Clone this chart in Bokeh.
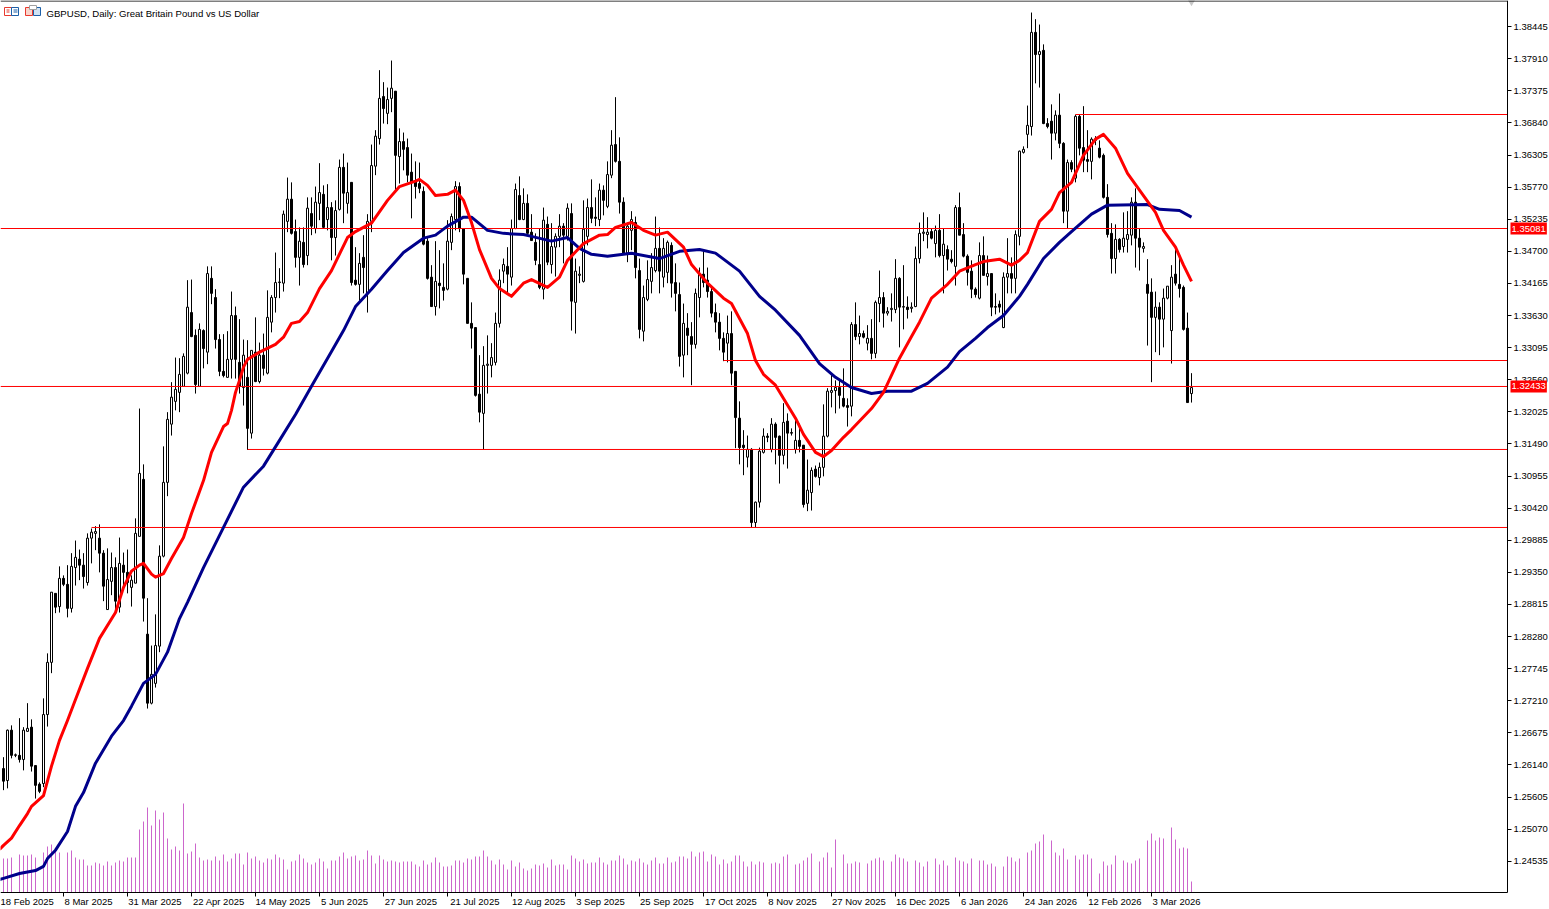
from bokeh.plotting import figure, ColumnDataSource
from bokeh.models import Range1d, LinearAxis, FixedTicker, PrintfTickFormatter, Label, BoxAnnotation
from bokeh.embed import file_html
from bokeh.resources import INLINE

opens = [
    1.2608,1.2588,1.2672,1.2630,1.2630,1.2623,1.2670,1.2677,1.2613,1.2582,
    1.2583,1.2698,1.2785,1.2900,1.2878,1.2925,1.2915,1.2875,1.2943,1.2957,
    1.2947,1.2918,1.2992,1.3000,1.2992,1.2967,1.2873,1.2920,1.2943,1.2877,
    1.2947,1.2935,1.2910,1.2917,1.2995,1.3090,1.2832,1.2717,1.2750,1.2812,
    1.2962,1.3085,1.3182,1.3220,1.3235,1.3245,1.3267,1.3368,1.3330,1.3245,
    1.3338,1.3302,1.3425,1.3393,1.3323,1.3270,1.3260,1.3290,1.3363,1.3285,
    1.3243,1.3260,1.3167,1.3302,1.3253,1.3297,1.3267,1.3352,1.3393,1.3418,
    1.3417,1.3520,1.3557,1.3503,1.3460,1.3485,1.3463,1.3533,1.3508,1.3550,
    1.3565,1.3523,1.3543,1.3493,1.3540,1.3610,1.3550,1.3585,1.3422,1.3415,
    1.3460,1.3400,1.3520,1.3612,1.3658,1.3728,1.3700,1.3725,1.3737,1.3628,
    1.3653,1.3643,1.3602,1.3587,1.3583,1.3570,1.3487,1.3427,1.3378,1.3417,
    1.3410,1.3407,1.3485,1.3523,1.3578,1.3508,1.3425,1.3350,1.3343,1.3232,
    1.3200,1.3280,1.3280,1.3285,1.3350,1.3437,1.3445,1.3427,1.3508,1.3563,
    1.3523,1.3550,1.3502,1.3485,1.3448,1.3407,1.3515,1.3448,1.3477,1.3495,
    1.3512,1.3495,1.3533,1.3385,1.3430,1.3420,1.3495,1.3543,1.3527,1.3523,
    1.3572,1.3545,1.3597,1.3648,1.3620,1.3552,1.3467,1.3505,1.3518,1.3438,
    1.3337,1.3390,1.3420,1.3438,1.3475,1.3427,1.3435,1.3480,1.3418,1.3398,
    1.3297,1.3342,1.3328,1.3315,1.3393,1.3432,1.3422,1.3403,1.3368,1.3352,
    1.3325,1.3317,1.3333,1.3270,1.3192,1.3147,1.3127,1.3140,1.3018,1.3052,
    1.3135,1.3162,1.3140,1.3182,1.3162,1.3130,1.3187,1.3168,1.3140,1.3155,
    1.3147,1.3050,1.3068,1.3107,1.3093,1.3110,1.3162,1.3235,1.3238,1.3243,
    1.3225,1.3213,1.3212,1.3348,1.3328,1.3333,1.3317,1.3325,1.3300,1.3383,
    1.3393,1.3367,1.3373,1.3373,1.3425,1.3377,1.3377,1.3375,1.3378,1.3458,
    1.3500,1.3498,1.3503,1.3483,1.3505,1.3463,1.3473,1.3457,1.3445,1.3543,
    1.3498,1.3462,1.3437,1.3407,1.3392,1.3463,1.3428,1.3433,1.3378,1.3382,
    1.3343,1.3427,1.3433,1.3425,1.3495,1.3635,1.3665,1.3678,1.3835,1.3798,
    1.3805,1.3683,1.3687,1.3667,1.3697,1.3650,1.3537,1.3618,1.3592,1.3695,
    1.3643,1.3623,1.3620,1.3655,1.3642,1.3630,1.3560,1.3500,1.3458,1.3490,
    1.3478,1.3490,1.3497,1.3552,1.3492,1.3475,1.3415,1.3402,1.3360,1.3377,
    1.3357,1.3392,1.3338,1.3432,1.3415,1.3410,1.3342,1.3233,
]
highs = [
    1.2627,1.2673,1.2680,1.2633,1.2692,1.2677,1.2717,1.2690,1.2613,1.2585,
    1.2725,1.2800,1.2902,1.2900,1.2945,1.2930,1.2947,1.2967,1.2988,1.2973,
    1.2967,1.3000,1.3008,1.3012,1.3015,1.2972,1.2975,1.2968,1.2960,1.2993,
    1.2968,1.2973,1.2930,1.3025,1.3208,1.3115,1.2892,1.2813,1.2865,1.2980,
    1.3145,1.3202,1.3252,1.3293,1.3292,1.3300,1.3422,1.3423,1.3340,1.3350,
    1.3340,1.3445,1.3445,1.3407,1.3332,1.3332,1.3337,1.3403,1.3378,1.3357,
    1.3323,1.3322,1.3305,1.3360,1.3318,1.3333,1.3405,1.3397,1.3468,1.3442,
    1.3538,1.3593,1.3585,1.3523,1.3510,1.3510,1.3560,1.3560,1.3578,1.3617,
    1.3580,1.3582,1.3552,1.3555,1.3623,1.3633,1.3618,1.3585,1.3477,1.3467,
    1.3497,1.3532,1.3648,1.3672,1.3772,1.3752,1.3743,1.3788,1.3737,1.3675,
    1.3668,1.3658,1.3633,1.3620,1.3618,1.3578,1.3492,1.3447,1.3487,1.3472,
    1.3450,1.3522,1.3533,1.3587,1.3585,1.3508,1.3425,1.3385,1.3343,1.3297,
    1.3312,1.3330,1.3317,1.3368,1.3440,1.3458,1.3477,1.3523,1.3583,1.3595,
    1.3575,1.3565,1.3532,1.3500,1.3508,1.3543,1.3528,1.3517,1.3500,1.3532,
    1.3517,1.3550,1.3550,1.3458,1.3445,1.3555,1.3558,1.3590,1.3560,1.3583,
    1.3580,1.3620,1.3672,1.3727,1.3660,1.3560,1.3518,1.3537,1.3528,1.3458,
    1.3413,1.3455,1.3467,1.3528,1.3510,1.3492,1.3488,1.3485,1.3450,1.3418,
    1.3383,1.3367,1.3352,1.3408,1.3443,1.3472,1.3443,1.3410,1.3383,1.3367,
    1.3335,1.3363,1.3370,1.3270,1.3220,1.3172,1.3163,1.3142,1.3053,1.3143,
    1.3175,1.3167,1.3192,1.3185,1.3163,1.3217,1.3200,1.3175,1.3192,1.3183,
    1.3147,1.3123,1.3110,1.3113,1.3118,1.3215,1.3242,1.3267,1.3255,1.3255,
    1.3275,1.3225,1.3352,1.3385,1.3363,1.3338,1.3347,1.3357,1.3388,1.3438,
    1.3402,1.3377,1.3400,1.3457,1.3427,1.3447,1.3395,1.3385,1.3478,1.3518,
    1.3535,1.3527,1.3508,1.3513,1.3532,1.3508,1.3480,1.3472,1.3547,1.3568,
    1.3517,1.3465,1.3455,1.3410,1.3485,1.3495,1.3463,1.3433,1.3400,1.3388,
    1.3435,1.3492,1.3460,1.3505,1.3638,1.3645,1.3713,1.3868,1.3857,1.3848,
    1.3815,1.3692,1.3715,1.3705,1.3733,1.3652,1.3623,1.3622,1.3698,1.3698,
    1.3712,1.3672,1.3660,1.3662,1.3655,1.3633,1.3582,1.3517,1.3515,1.3492,
    1.3535,1.3537,1.3560,1.3575,1.3508,1.3485,1.3457,1.3425,1.3403,1.3385,
    1.3408,1.3412,1.3447,1.3475,1.3460,1.3413,1.3368,1.3267,
]
lows = [
    1.2572,1.2575,1.2625,1.2627,1.2618,1.2605,1.2670,1.2603,1.2558,1.2567,
    1.2577,1.2678,1.2767,1.2867,1.2868,1.2912,1.2860,1.2868,1.2913,1.2922,
    1.2908,1.2913,1.2950,1.2972,1.2935,1.2887,1.2873,1.2897,1.2872,1.2868,
    1.2913,1.2900,1.2878,1.2917,1.2995,1.2853,1.2708,1.2715,1.2743,1.2802,
    1.2960,1.3062,1.3163,1.3205,1.3202,1.3245,1.3265,1.3327,1.3233,1.3245,
    1.3275,1.3282,1.3382,1.3308,1.3262,1.3260,1.3260,1.3258,1.3258,1.3233,
    1.3213,1.3139,1.3158,1.3252,1.3250,1.3263,1.3265,1.3335,1.3368,1.3392,
    1.3403,1.3502,1.3498,1.3443,1.3413,1.3443,1.3447,1.3497,1.3500,1.3522,
    1.3508,1.3505,1.3455,1.3463,1.3538,1.3517,1.3533,1.3413,1.3413,1.3388,
    1.3400,1.3368,1.3502,1.3597,1.3648,1.3683,1.3682,1.3702,1.3572,1.3583,
    1.3605,1.3585,1.3525,1.3558,1.3567,1.3480,1.3423,1.3378,1.3363,1.3375,
    1.3388,1.3405,1.3472,1.3505,1.3502,1.3415,1.3350,1.3308,1.3228,1.3185,
    1.3139,1.3233,1.3260,1.3280,1.3343,1.3417,1.3400,1.3413,1.3507,1.3522,
    1.3522,1.3500,1.3488,1.3447,1.3407,1.3390,1.3447,1.3433,1.3428,1.3477,
    1.3450,1.3488,1.3338,1.3333,1.3417,1.3418,1.3480,1.3517,1.3512,1.3512,
    1.3530,1.3542,1.3592,1.3618,1.3533,1.3465,1.3452,1.3472,1.3425,1.3325,
    1.3320,1.3387,1.3400,1.3435,1.3400,1.3410,1.3417,1.3393,1.3370,1.3278,
    1.3260,1.3297,1.3247,1.3308,1.3360,1.3410,1.3393,1.3360,1.3335,1.3305,
    1.3287,1.3285,1.3247,1.3142,1.3115,1.3097,1.3110,1.3010,1.3009,1.3043,
    1.3133,1.3152,1.3135,1.3115,1.3083,1.3115,1.3108,1.3163,1.3133,1.3135,
    1.3043,1.3037,1.3038,1.3093,1.3080,1.3095,1.3160,1.3210,1.3200,1.3208,
    1.3210,1.3178,1.3195,1.3322,1.3315,1.3325,1.3305,1.3290,1.3292,1.3352,
    1.3343,1.3363,1.3353,1.3367,1.3310,1.3340,1.3358,1.3368,1.3377,1.3450,
    1.3487,1.3475,1.3490,1.3460,1.3460,1.3400,1.3438,1.3450,1.3413,1.3497,
    1.3460,1.3413,1.3392,1.3393,1.3390,1.3430,1.3413,1.3362,1.3365,1.3368,
    1.3342,1.3400,1.3400,1.3400,1.3480,1.3633,1.3642,1.3663,1.3750,1.3743,
    1.3682,1.3675,1.3623,1.3655,1.3642,1.3517,1.3508,1.3602,1.3585,1.3630,
    1.3602,1.3602,1.3590,1.3647,1.3625,1.3558,1.3493,1.3433,1.3433,1.3468,
    1.3468,1.3468,1.3480,1.3443,1.3438,1.3468,1.3313,1.3252,1.3302,1.3297,
    1.3310,1.3390,1.3283,1.3413,1.3393,1.3338,1.3218,1.3218,
]
closes = [
    1.2587,1.2672,1.2630,1.2631,1.2623,1.2672,1.2675,1.2612,1.2580,1.2570,
    1.2698,1.2785,1.2902,1.2877,1.2925,1.2915,1.2875,1.2945,1.2960,1.2947,
    1.2928,1.2992,1.3002,1.3003,1.2967,1.2912,1.2923,1.2943,1.2887,1.2950,
    1.2935,1.2918,1.2922,1.3000,1.3100,1.2892,1.2717,1.2765,1.2813,1.2962,
    1.3085,1.3190,1.3227,1.3240,1.3265,1.3295,1.3377,1.3328,1.3248,1.3340,
    1.3308,1.3433,1.3400,1.3323,1.3270,1.3263,1.3290,1.3363,1.3290,1.3245,
    1.3297,1.3175,1.3305,1.3253,1.3297,1.3275,1.3360,1.3393,1.3418,1.3419,
    1.3532,1.3557,1.3500,1.3460,1.3487,1.3448,1.3542,1.3512,1.3552,1.3568,
    1.3510,1.3543,1.3493,1.3538,1.3610,1.3567,1.3568,1.3418,1.3415,1.3450,
    1.3443,1.3520,1.3613,1.3662,1.3725,1.3708,1.3723,1.3742,1.3630,1.3653,
    1.3640,1.3597,1.3585,1.3578,1.3575,1.3482,1.3425,1.3378,1.3420,1.3413,
    1.3405,1.3487,1.3528,1.3578,1.3508,1.3432,1.3350,1.3342,1.3230,1.3202,
    1.3280,1.3282,1.3293,1.3350,1.3422,1.3448,1.3432,1.3508,1.3573,1.3523,
    1.3550,1.3500,1.3488,1.3455,1.3410,1.3522,1.3452,1.3478,1.3495,1.3512,
    1.3497,1.3542,1.3387,1.3437,1.3432,1.3507,1.3543,1.3525,1.3525,1.3572,
    1.3555,1.3598,1.3647,1.3620,1.3552,1.3467,1.3512,1.3523,1.3443,1.3340,
    1.3393,1.3423,1.3443,1.3475,1.3437,1.3475,1.3485,1.3417,1.3400,1.3295,
    1.3350,1.3330,1.3315,1.3400,1.3432,1.3418,1.3403,1.3367,1.3352,1.3325,
    1.3302,1.3333,1.3267,1.3193,1.3143,1.3143,1.3140,1.3018,1.3052,1.3137,
    1.3162,1.3160,1.3182,1.3160,1.3130,1.3185,1.3167,1.3167,1.3155,1.3145,
    1.3048,1.3072,1.3105,1.3095,1.3110,1.3162,1.3237,1.3238,1.3243,1.3230,
    1.3212,1.3210,1.3348,1.3328,1.3333,1.3327,1.3325,1.3300,1.3385,1.3393,
    1.3367,1.3370,1.3375,1.3425,1.3377,1.3378,1.3373,1.3377,1.3458,1.3500,
    1.3502,1.3502,1.3492,1.3505,1.3463,1.3482,1.3457,1.3453,1.3543,1.3497,
    1.3462,1.3435,1.3407,1.3398,1.3463,1.3430,1.3433,1.3377,1.3377,1.3377,
    1.3427,1.3433,1.3425,1.3498,1.3637,1.3640,1.3680,1.3835,1.3798,1.3803,
    1.3683,1.3678,1.3667,1.3697,1.3650,1.3537,1.3618,1.3607,1.3695,1.3642,
    1.3622,1.3620,1.3657,1.3657,1.3627,1.3560,1.3498,1.3458,1.3490,1.3473,
    1.3492,1.3498,1.3552,1.3492,1.3477,1.3478,1.3400,1.3360,1.3377,1.3357,
    1.3392,1.3412,1.3427,1.3417,1.3408,1.3340,1.3218,1.3243,
]
volumes = [
    34,34,35,0,38,37,37,38,35,0,40,46,48,41,40,0,40,42,35,33,
    33,27,27,30,29,27,31,27,30,32,31,35,35,35,63,71,85,67,82,73,
    80,54,43,46,42,89,39,41,49,35,32,33,32,36,32,38,31,34,39,39,
    28,40,34,36,32,30,34,33,38,35,33,23,31,32,38,34,30,28,30,34,
    31,24,32,32,36,40,34,36,37,32,33,42,37,29,37,33,31,32,31,30,
    31,31,31,28,26,32,28,30,35,30,26,26,27,32,32,30,34,33,36,36,
    42,36,32,28,33,28,23,32,26,30,24,22,24,28,27,29,25,33,27,28,
    28,23,37,34,31,33,29,30,30,35,30,28,32,32,37,34,28,32,31,34,
    30,28,32,35,29,29,35,30,31,36,36,34,41,36,40,41,31,38,36,28,
    33,29,31,37,37,31,26,31,28,31,30,0,29,30,29,36,38,0,28,29,
    32,35,39,1,31,35,40,25,53,1,38,29,29,31,30,1,29,32,34,35,
    32,0,31,38,35,34,31,0,32,30,26,31,1,34,28,32,27,0,35,32,
    31,29,34,0,32,32,28,29,26,0,26,36,35,31,34,1,40,42,49,51,
    58,1,52,40,37,44,33,0,37,33,38,38,34,1,19,31,27,28,37,1,
    32,30,29,32,34,1,52,59,52,55,54,1,65,53,44,45,44,11,
]

ma_red_bars = [
    -1,0,2,4,6,7,10,12,14,16,18,21,24,28,30,32,34,35,37,38,40,42,45,47,50,52,55,56,57,58,59,
    60,61,64,68,70,72,74,76,79,82,86,88,92,96,99,103,104,106,108,111,113,115,117,119,122,124,127,
    130,132,136,139,141,145,149,151,153,157,160,163,166,170,172,176,180,182,186,188,190,193,198,
    200,203,205,207,210,212,217,220,224,227,229,232,236,239,243,245,249,252,254,256,259,262,264,
    267,270,273,275,278,281,284,288,290,293,295,297,
]
ma_red = [
    1.2473,1.2480,1.2492,1.2513,1.2533,1.2545,1.2563,1.2612,1.2655,1.2688,1.2723,1.2775,1.2825,1.2868,1.2910,1.2937,
    1.2947,1.2950,1.2932,1.2927,1.2933,1.2958,1.2993,1.3033,1.3088,1.3135,1.3178,1.3183,1.3205,1.3235,1.3255,
    1.3277,1.3290,1.3302,1.3315,1.3327,1.3350,1.3353,1.3368,1.3408,1.3438,1.3493,1.3503,1.3517,1.3555,1.3578,
    1.3587,1.3590,1.3580,1.3563,1.3565,1.3572,1.3555,1.3518,1.3473,1.3425,1.3408,1.3395,
    1.3417,1.3423,1.3410,1.3427,1.3455,1.3483,1.3497,1.3498,1.3510,1.3518,1.3505,1.3497,1.3502,1.3477,1.3448,
    1.3417,1.3392,1.3383,1.3333,1.3288,1.3265,1.3247,1.3192,
    1.3165,1.3135,1.3128,1.3138,1.3160,1.3173,1.3208,1.3235,1.3292,1.3328,1.3352,1.3392,1.3415,1.3437,1.3448,
    1.3453,1.3457,1.3447,1.3455,1.3468,1.3520,1.3540,1.3568,
    1.3585,1.3630,1.3657,1.3665,1.3642,1.3600,1.3572,1.3535,1.3505,1.3477,1.3447,1.3420,
]
ma_blue_bars = [
    -1,0,4,8,10,11,13,16,18,20,23,27,30,32,35,38,41,44,46,50,55,60,65,69,73,77,82,85,88,92,96,
    100,105,108,111,115,117,121,125,130,132,137,141,144,147,151,157,164,169,174,178,184,189,193,199,
    204,208,212,217,221,227,231,236,239,243,246,250,254,256,260,264,267,272,276,286,289,294,297,
]
ma_blue = [
    1.2423,1.2425,1.2433,1.2438,1.2445,1.2458,1.2472,1.2503,1.2545,1.2568,1.2617,1.2662,1.2688,1.2712,1.2750,1.2765,
    1.2802,1.2858,1.2885,1.2943,1.3010,1.3077,1.3112,1.3155,1.3198,1.3245,1.3303,1.3338,1.3378,1.3407,1.3438,
    1.3468,1.3492,1.3497,1.3512,1.3527,1.3527,1.3505,1.3500,1.3498,1.3495,1.3487,1.3493,1.3475,1.3465,1.3462,
    1.3467,1.3458,1.3470,1.3473,1.3467,1.3437,1.3395,1.3372,1.3330,
    1.3283,1.3260,1.3243,1.3233,1.3237,1.3237,1.3250,1.3277,1.3303,1.3325,1.3343,1.3363,1.3395,1.3415,1.3458,
    1.3485,1.3503,1.3532,1.3547,1.3548,1.3540,1.3538,1.3527,
]

level_prices = [1.36981, 1.35081, 1.32881, 1.32448, 1.31398, 1.30098]
level_starts = [268, None, 180, None, 61, 22]

tag_prices = [1.35081, 1.32448]
tag_labels = ["1.35081", "1.32433"]

price_ticks = [1.24535, 1.25070, 1.25605, 1.26140, 1.26675, 1.27210, 1.27745, 1.28280, 1.28815, 1.29350,
               1.29885, 1.30420, 1.30955, 1.31490, 1.32025, 1.32560, 1.33095, 1.33630, 1.34165, 1.34700,
               1.35235, 1.35770, 1.36305, 1.36840, 1.37375, 1.37910, 1.38445]
date_bars = [-1, 15, 31, 47, 63, 79, 95, 111, 127, 143, 159, 175, 191, 207, 223, 239, 255, 271, 287]
date_labels = ["18 Feb 2025", "8 Mar 2025", "31 Mar 2025", "22 Apr 2025", "14 May 2025", "5 Jun 2025",
               "27 Jun 2025", "21 Jul 2025", "12 Aug 2025", "3 Sep 2025", "25 Sep 2025", "17 Oct 2025",
               "8 Nov 2025", "27 Nov 2025", "16 Dec 2025", "6 Jan 2026", "24 Jan 2026", "12 Feb 2026", "3 Mar 2026"]

title = "GBPUSD, Daily:  Great Britain Pound vs US Dollar"
font = "Liberation Sans"

# one bar is 4 px, the frame fills the window so the price tags are not cut off;
# the axes sit inside it with fixed_location, 1507 px across and 892 px down
x_start, x_end, x_axis_at = -0.75, 386.5, 376.0
y_top, y_bottom, y_axis_at = 1.38881, 1.23731, 1.24014

p = figure(width=1549, height=909,
           x_range=Range1d(x_start, x_end), y_range=Range1d(y_bottom, y_top),
           x_axis_type=None, y_axis_type=None,
           output_backend="svg", toolbar_location=None,
           min_border_left=0, min_border_top=0, min_border_right=0, min_border_bottom=0)
p.grid.visible = False
p.outline_line_color = None
p.background_fill_color = "white"
p.border_fill_color = "white"

yax = LinearAxis(ticker=FixedTicker(ticks=price_ticks), formatter=PrintfTickFormatter(format="%.5f"))
yax.fixed_location = x_axis_at
yax.bounds = (y_axis_at, y_top)
yax.axis_line_color = "black"
yax.major_tick_line_color = "black"
yax.major_tick_in = 0
yax.major_tick_out = 4
yax.minor_tick_line_color = None
yax.major_label_standoff = 2
yax.major_label_text_font = font
yax.major_label_text_font_size = "9.5px"
yax.major_label_text_color = "black"
p.add_layout(yax, "right")

# the terminal starts a date at its tick and the axis centres it, so the marks are
# minor ticks on the bars and the labels are major ticks half a label further on
label_bars = [b + (1 + 4.8 * len(t) / 2) / 4 for b, t in zip(date_bars, date_labels)]
xax = LinearAxis(ticker=FixedTicker(ticks=label_bars, minor_ticks=date_bars))
xax.fixed_location = y_axis_at
xax.bounds = (x_start, x_axis_at)
xax.axis_line_color = "black"
xax.major_tick_line_color = None
xax.major_tick_in = 0
xax.major_tick_out = 0
xax.minor_tick_line_color = "black"
xax.minor_tick_in = 0
xax.minor_tick_out = 4
xax.major_label_standoff = -1
xax.major_label_overrides = dict(zip(label_bars, date_labels))
xax.major_label_text_font = font
xax.major_label_text_font_size = "9.5px"
xax.major_label_text_color = "black"
p.add_layout(xax, "below")

bars = list(range(len(opens)))
p.extra_y_ranges = {"vol": Range1d(-17, 892)}
p.segment(bars, [0] * len(bars), bars, volumes, y_range_name="vol", line_color="#CC66CC", line_width=1)

candles = ColumnDataSource(data=dict(
    bar=bars, high=highs, low=lows,
    top=[max(o, c) for o, c in zip(opens, closes)],
    bottom=[min(o, c) for o, c in zip(opens, closes)],
    fill=["white" if c >= o else "black" for o, c in zip(opens, closes)],
))
p.segment("bar", "high", "bar", "low", source=candles, line_color="black", line_width=1)
p.vbar(x="bar", top="top", bottom="bottom", width=0.5, source=candles,
       fill_color="fill", line_color="black", line_width=1)

for price, start in zip(level_prices, level_starts):
    p.segment([x_start if start is None else start], [price], [x_axis_at], [price],
              line_color="#FF0000", line_width=1)

p.line(ma_blue_bars, ma_blue, line_color="#00008B", line_width=3, line_join="round")
p.line(ma_red_bars, ma_red, line_color="#FF0000", line_width=3, line_join="round")

# grey shift marker on the top edge above the last bar
p.scatter([bars[-1]], [y_top], marker="inverted_triangle", size=10, color="#C8C8C8", line_color=None)

for price, text in zip(tag_prices, tag_labels):
    p.add_layout(Label(x=1510, y=price, x_units="canvas", text=text, text_font=font, text_font_size="9.5px",
                       text_color="white", text_align="left", text_baseline="middle",
                       background_fill_color="#FF0000", padding=(1, 3)))

p.add_layout(Label(x=46, y=7, x_units="canvas", y_units="canvas", text=title, text_font=font,
                   text_font_size="9.6px", text_color="black", text_baseline="top", text_align="left"))

# top edge and the two small terminal icons
icon_boxes = [
    (0, 1507, 0, 1, "black", None),
    (4, 11, 7, 15, None, "#E8392E"),
    (11, 18, 7, 15, None, "#1C5FA8"),
    (6, 9, 9, 10, "#E8392E", None),
    (6, 9, 11, 12, "#E8392E", None),
    (13, 17, 9, 10, "#1C5FA8", None),
    (13, 17, 11, 12, "#1C5FA8", None),
    (25, 32, 7, 15, "#F9D5CC", "#E8392E"),
    (33, 40, 7, 15, "#CFE3F5", "#1C5FA8"),
    (29, 36, 5, 9, "white", "#A0A0A0"),
]
for left, right, top, bottom, fill, line in icon_boxes:
    p.add_layout(BoxAnnotation(left=left, right=right, top=top, bottom=bottom,
                               left_units="canvas", right_units="canvas", top_units="canvas", bottom_units="canvas",
                               fill_color=fill, fill_alpha=1.0 if fill else 0.0,
                               line_color=line, line_width=1, line_alpha=1.0 if line else 0.0))

open("out.html", "w").write(file_html(p, INLINE))
